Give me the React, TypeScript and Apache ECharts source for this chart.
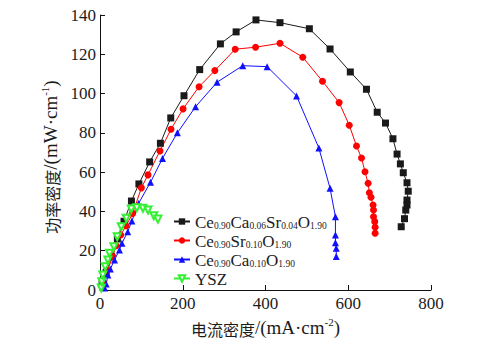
import React, { useEffect, useRef } from "react";
import * as echarts from "echarts";

const seriesNames = [
  "Ce0.90Ca0.06Sr0.04O1.90",
  "Ce0.90Sr0.10O1.90",
  "Ce0.90Ca0.10O1.90",
  "YSZ",
];

const caSrData: [number, number][] = [
  [5, 3], [15, 9], [28, 17], [42, 26], [58, 35], [76, 45.3], [94, 54], [120, 65.2],
  [146, 74.7], [171, 87.6], [203, 98.9], [241, 112.2], [291, 125.3], [329, 131.4],
  [377, 137.5], [435, 136.1], [506, 133], [556, 122.7], [605, 111], [644, 102.2],
  [670, 90.5], [690, 85], [708, 77], [718, 69.2], [726, 64.2], [733, 59.7],
  [742, 54.6], [745, 50.3], [742, 45.8], [742, 43.3], [739, 40.7], [736, 36.3], [728, 32.2],
];

const srData: [number, number][] = [
  [8, 4], [18, 10], [31, 17], [39, 22.6], [50, 28], [63, 32.7], [79, 39], [100, 52],
  [116, 58.6], [145, 70.8], [171.6, 81.8], [200.7, 92.2], [239.5, 103.5], [277.6, 111.7],
  [326.8, 122.6], [376, 123.6], [435, 125.6], [490, 118.5], [537.7, 106.3], [578, 95.4],
  [602.4, 83.9], [620, 73.3], [632, 67.2], [640.5, 60.2], [648, 54.3], [651, 49.5],
  [655, 47.2], [660, 43.3], [661, 40.7], [661, 37.3], [664, 34.8], [665, 31.9], [665, 28.9],
];

const caData: [number, number][] = [
  [11, 1], [15, 3], [19, 7.6], [25, 10.7], [35, 15.3], [47, 20.4], [53, 23.8], [67, 29.7],
  [77, 35.1], [93, 44], [122, 54.8], [151, 67], [187, 80], [231, 93.3], [283, 105.8],
  [345, 114.2], [404, 113.7], [475, 98.8], [529, 72.3], [556, 51.8], [569, 37.3],
  [569, 28], [569, 24.1], [571, 21.2], [571, 17],
];

const yszData: [number, number][] = [
  [3, 1], [4.4, 4.2], [6.8, 7.6], [12.6, 11.9], [19, 15.3], [23, 18.7], [33.5, 22],
  [41.7, 27.1], [51.4, 32.2], [63.5, 36.5], [75.6, 41.2], [89, 41.9], [103.8, 41.6],
  [116, 40.7], [130, 37.8], [140, 36.1],
];

const legendRich: Record<string, string> = {
  "Ce0.90Ca0.06Sr0.04O1.90": "{m|Ce}{s|0.90}{m|Ca}{s|0.06}{m|Sr}{s|0.04}{m|O}{s|1.90}",
  "Ce0.90Sr0.10O1.90": "{m|Ce}{s|0.90}{m|Sr}{s|0.10}{m|O}{s|1.90}",
  "Ce0.90Ca0.10O1.90": "{m|Ce}{s|0.90}{m|Ca}{s|0.10}{m|O}{s|1.90}",
  YSZ: "{m|YSZ}",
};

const SERIF = "Liberation Serif";
const CJK = "Noto Sans CJK SC";
const TXT = "#1c1c1c";

const nameRich = {
  c: { fontSize: 16, fontFamily: CJK, color: TXT, lineHeight: 20, verticalAlign: "bottom" },
  l: { fontSize: 19, fontFamily: SERIF, color: TXT, lineHeight: 20, verticalAlign: "bottom" },
  sup: { fontSize: 11, fontFamily: SERIF, color: TXT, lineHeight: 12, verticalAlign: "top" },
};

export default function App() {
  const ref = useRef<HTMLDivElement>(null);
  useEffect(() => {
    if (!ref.current) return;
    const chart = echarts.init(ref.current, undefined, { renderer: "svg" });
    const mk = (name: string, data: [number, number][], color: string, symbol: string, extra: any = {}) => ({
      name,
      type: "line",
      data,
      symbol,
      symbolSize: 7,
      lineStyle: { color, width: 1 },
      itemStyle: { color },
      ...extra,
    });
    chart.setOption({
      animation: false,
      backgroundColor: "#fff",
      textStyle: { fontFamily: SERIF },
      grid: { left: 100, right: 70, top: 15, bottom: 55 },
      legend: {
        orient: "vertical",
        left: 168,
        top: 207,
        itemGap: 0,
        itemWidth: 16,
        itemHeight: 8,
        data: seriesNames,
        formatter: (n: string) => legendRich[n],
        textStyle: {
          fontFamily: SERIF,
          fontSize: 17,
          lineHeight: 19,
          rich: {
            m: { fontSize: 17, fontFamily: SERIF, color: TXT, lineHeight: 19, verticalAlign: "bottom" },
            s: { fontSize: 9.5, fontFamily: SERIF, color: TXT, lineHeight: 11, verticalAlign: "bottom" },
          },
        },
      },
      xAxis: {
        type: "value",
        min: 0,
        max: 800,
        interval: 200,
        name: "{c|电流密度}{l|/(mA·cm}{sup|-2}{l|)}",
        nameLocation: "middle",
        nameGap: 20,
        nameTextStyle: { rich: nameRich },
        axisLine: { lineStyle: { color: "#111", width: 1 } },
        axisTick: { inside: true, length: 5, lineStyle: { color: "#111" } },
        axisLabel: { fontFamily: SERIF, fontSize: 17, color: TXT, margin: 5 },
        splitLine: { show: false },
      },
      yAxis: {
        type: "value",
        min: 0,
        max: 140,
        interval: 20,
        name: "{c|功率密度}{l|/(mW·cm}{sup|-1}{l|)}",
        nameLocation: "middle",
        nameGap: 19,
        nameTextStyle: { rich: nameRich, padding: [0, 9, 0, 0] },
        axisLine: { show: true, lineStyle: { color: "#111", width: 1 } },
        axisTick: { show: true, inside: true, length: 5, lineStyle: { color: "#111" } },
        axisLabel: { fontFamily: SERIF, fontSize: 17, color: TXT, margin: 4 },
        splitLine: { show: false },
      },
      series: [
        mk(seriesNames[0], caSrData, "#1a1a1a", "rect"),
        mk(seriesNames[1], srData, "#ff0000", "circle"),
        mk(seriesNames[2], caData, "#1010ff", "triangle"),
        mk(seriesNames[3], yszData, "#33f033", "emptyTriangle", { symbolRotate: 180, symbolSize: 7 }),
      ],
    });
    return () => chart.dispose();
  }, []);
  return (
    <div
      ref={ref}
      style={{ width: 501, height: 345, position: "fixed", left: 0, top: 0 }}
    />
  );
}
